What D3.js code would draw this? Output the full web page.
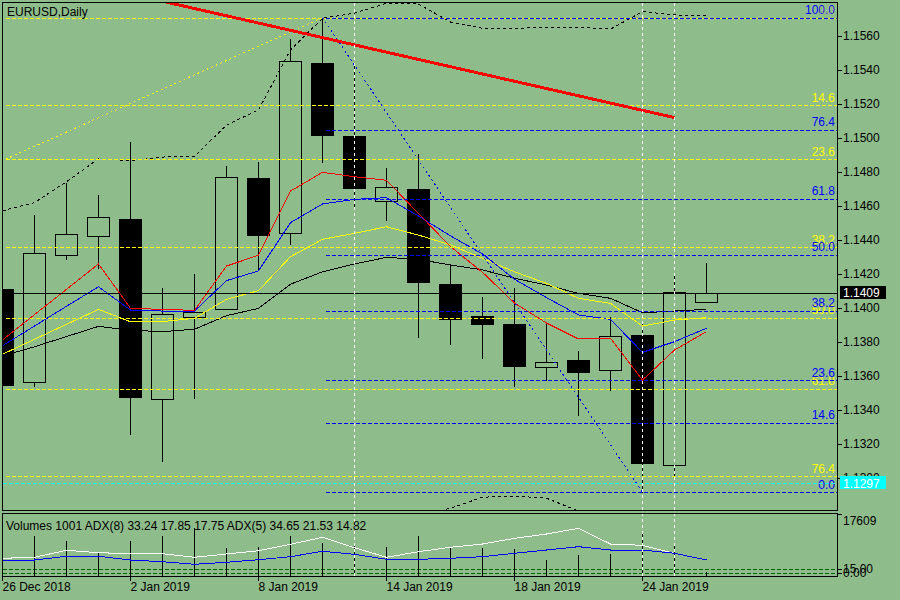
<!DOCTYPE html>
<html>
<head>
<meta charset="utf-8">
<script src="https://cdnjs.cloudflare.com/ajax/libs/d3/7.8.5/d3.min.js"></script>
<style>
  body { margin: 0; background: #8fbc8b; }
  svg text { font-family: "Liberation Sans", Arial, sans-serif; font-size: 12px; }
</style>
</head>
<body>
<svg id="chart" width="900" height="600"></svg>
<script>
// ---- data ----
const dates = ['26 Dec 2018', '27 Dec 2018', '28 Dec 2018', '31 Dec 2018', '2 Jan 2019', '3 Jan 2019',
  '4 Jan 2019', '7 Jan 2019', '8 Jan 2019', '9 Jan 2019', '10 Jan 2019', '11 Jan 2019', '14 Jan 2019',
  '15 Jan 2019', '16 Jan 2019', '17 Jan 2019', '18 Jan 2019', '21 Jan 2019', '22 Jan 2019',
  '23 Jan 2019', '24 Jan 2019', '25 Jan 2019', '28 Jan 2019']
const dateTicks = ['26 Dec 2018', '2 Jan 2019', '8 Jan 2019', '14 Jan 2019', '18 Jan 2019', '24 Jan 2019']

const opens = [1.14112, 1.13563, 1.1431, 1.14422, 1.14524, 1.13463, 1.13951, 1.13992, 1.14765, 1.14439, 1.15441,
  1.15012, 1.14628, 1.1470, 1.14141, 1.13953, 1.13906, 1.13651, 1.13692, 1.13634, 1.13839, 1.13075, 1.14039]
const highs = [1.1418, 1.14553, 1.1474, 1.14671, 1.14982, 1.14124, 1.14206, 1.14841, 1.14865, 1.15586, 1.1571,
  1.15428, 1.14829, 1.14912, 1.14263, 1.14072, 1.14124, 1.13924, 1.13753, 1.13953, 1.13924, 1.14198, 1.14272]
const lows = [1.1350, 1.13543, 1.1429, 1.14234, 1.13261, 1.13102, 1.13472, 1.13992, 1.14228, 1.14378, 1.14861,
  1.14592, 1.14519, 1.13831, 1.13788, 1.13708, 1.13543, 1.13577, 1.13372, 1.13519, 1.12916, 1.13016, 1.14039]
const closes = [1.13549, 1.14322, 1.14434, 1.14534, 1.13475, 1.13963, 1.13978, 1.14771, 1.14431, 1.15453, 1.15019,
  1.14708, 1.1471, 1.14151, 1.13937, 1.13908, 1.13661, 1.13681, 1.13619, 1.13834, 1.13087, 1.14092, 1.1409]
const volumes = [17609, 11361, 9940, 6447, 9940, 11361, 13633, 8038, 8236, 11361, 9372, 9458, 8236, 11361,
  7867, 7952, 7583, 4544, 5964, 6248, 12582, 8804, 1001]

const maRed = [1.13812, 1.13961, 1.1411, 1.14259, 1.13998, 1.13992, 1.13986, 1.14247, 1.1431, 1.14688, 1.14798,
  1.14772, 1.14751, 1.14556, 1.14361, 1.1421, 1.14029, 1.13912, 1.13818, 1.13822, 1.13576, 1.13753, 1.13861]
const maBlue = [1.13778, 1.13894, 1.1401, 1.14125, 1.13988, 1.13982, 1.13982, 1.14161, 1.14218, 1.14502, 1.14612,
  1.14639, 1.14649, 1.14541, 1.14424, 1.14318, 1.14169, 1.14061, 1.13959, 1.13933, 1.13739, 1.13802, 1.13881]
const maYellow = [1.13728, 1.13816, 1.13904, 1.13992, 1.13919, 1.1392, 1.13939, 1.14051, 1.14102, 1.14302, 1.14404,
  1.14439, 1.14478, 1.14429, 1.14371, 1.14292, 1.14213, 1.14145, 1.14057, 1.14027, 1.13894, 1.13929, 1.13943]
const maBlack = [1.13718, 1.13772, 1.13832, 1.13892, 1.13869, 1.13861, 1.13875, 1.13955, 1.13998, 1.1414, 1.14213,
  1.14259, 1.14298, 1.14286, 1.14253, 1.14224, 1.14175, 1.14135, 1.14086, 1.14057, 1.13972, 1.13982, 1.13992]
const bandUpper = [1.14572, 1.1462, 1.14743, 1.14878, 1.14865, 1.14888, 1.14892, 1.15076, 1.15165, 1.15518, 1.15704,
  1.15735, 1.15792, 1.15788, 1.15682, 1.15645, 1.15645, 1.15651, 1.15651, 1.15641, 1.15743, 1.15724, 1.15718]
const bandLower = [1.1262, 1.1258, 1.1255, 1.1252, 1.1250, 1.1252, 1.1255, 1.1258, 1.1262, 1.1265, 1.1268,
  1.1272, 1.1275, 1.1278, 1.12822, 1.12887, 1.12894, 1.12881, 1.12806, 1.1278, 1.1262, 1.1258, 1.1260]

const adxWhite = [58.9, 63.0, 91.6, 81.8, 77.7, 77.7, 63.0, 76.5, 89.9, 116.1, 144.7, 102.2, 63.0, 85.9,
  103.9, 117.3, 140.6, 158.2, 181.5, 117.3, 112.0, 79.3, 51.9]
const adxBlue = [49.1, 51.9, 67.1, 67.1, 51.9, 45.0, 34.3, 42.5, 53.2, 65.4, 87.5, 75.2, 54.8, 54.8,
  58.9, 65.4, 79.3, 92.8, 106.3, 92.8, 92.8, 79.3, 51.9]
const adxLevels = [15, 0]
const adxLevelLabels = ['15.00', '0.00']

const priceTicks = [1.1560, 1.1540, 1.1520, 1.1500, 1.1480, 1.1460, 1.1440, 1.1420, 1.1400, 1.1380, 1.1360,
  1.1340, 1.1320, 1.1300]
const fibLevels = [0, 14.6, 23.6, 38.2, 50, 61.8, 76.4, 100]
// yellow fib: from an old low (32 bars before the first visible bar) to the 10 Jan high
const fibYellowBars = [-32, 10]
const fibYellowPrices = [1.12176, 1.15708]
// blue fib: from the 10 Jan high down to the 24 Jan low
const fibBlueBars = [10, 20]
const fibBluePrices = [1.15708, 1.12916]
const trendBars = [3, 21]
const trendPrices = [1.1589, 1.1512]
const vLineDates = ['11 Jan 2019', '24 Jan 2019', '25 Jan 2019']
const bidPrice = 1.1409
const alertPrice = 1.1297
const volumeMax = 17609

const BG = '#8fbc8b'
const svg = d3.select('#chart')
const mainTop = 2.5, mainBottom = 510.5, subTop = 513.5, subBottom = 576.5, right = 837.5, left = 2.5

const xScale = d3.scaleLinear().domain([0, dates.length - 1]).range([2.5, 706.5])
const yScale = d3.scaleLinear().domain([1.1300, 1.1560]).range([478, 36])
const volScale = d3.scaleLinear().domain([0, volumeMax]).range([576, 514])
const adxScale = d3.scaleLinear().domain([0, 240]).range([572.7, 514])

svg.append('rect').attr('width', 900).attr('height', 600).attr('fill', BG)

const defs = svg.append('defs')
defs.append('clipPath').attr('id', 'clip-main').append('rect')
  .attr('x', 3).attr('y', 3).attr('width', 834).attr('height', 507)
defs.append('clipPath').attr('id', 'clip-sub').append('rect')
  .attr('x', 3).attr('y', 514).attr('width', 834).attr('height', 62)

const main = svg.append('g').attr('clip-path', 'url(#clip-main)').attr('shape-rendering', 'crispEdges')
const sub = svg.append('g').attr('clip-path', 'url(#clip-sub)').attr('shape-rendering', 'crispEdges')
const crisp = v => Math.round(v) + 0.5

// vertical dashed lines through both windows
svg.append('g').selectAll('line').data(vLineDates).join('line')
  .attr('x1', d => xScale(dates.indexOf(d))).attr('x2', d => xScale(dates.indexOf(d)))
  .attr('y1', 3).attr('y2', 576)
  .attr('stroke', '#fff').attr('stroke-dasharray', '3,3').attr('shape-rendering', 'crispEdges')

// candles
const idx = d3.range(dates.length)
main.append('g').selectAll('line').data(idx).join('line')
  .attr('x1', i => xScale(i)).attr('x2', i => xScale(i))
  .attr('y1', i => crisp(yScale(highs[i]))).attr('y2', i => crisp(yScale(lows[i])))
  .attr('stroke', '#000')
main.append('g').selectAll('rect').data(idx).join('rect')
  .attr('x', i => xScale(i) - 11).attr('width', 22)
  .attr('y', i => crisp(yScale(Math.max(opens[i], closes[i]))))
  .attr('height', i => Math.max(1, Math.round(yScale(Math.min(opens[i], closes[i])) - yScale(Math.max(opens[i], closes[i])))))
  .attr('fill', i => closes[i] < opens[i] ? '#000' : BG)
  .attr('stroke', '#000')

// indicator lines
const priceLine = d3.line().x((d, i) => xScale(i)).y(d => yScale(d))
const series = [
  { values: bandUpper, color: '#000', dash: '3,3' },
  { values: bandLower, color: '#000', dash: '3,3' },
  { values: maBlack, color: '#000', dash: null },
  { values: maYellow, color: '#ffff00', dash: null },
  { values: maBlue, color: '#0000ff', dash: null },
  { values: maRed, color: '#ff0000', dash: null }
]
main.append('g').selectAll('path').data(series).join('path')
  .attr('d', d => priceLine(d.values))
  .attr('fill', 'none').attr('stroke', d => d.color)
  .attr('stroke-dasharray', d => d.dash)

// fibonacci retracements
function drawFib (bars, prices, color, zeroAtHigh) {
  const hi = d3.max(prices), lo = d3.min(prices)
  const levelPrice = L => zeroAtHigh ? hi - L / 100 * (hi - lo) : lo + L / 100 * (hi - lo)
  const x0 = Math.max(xScale(bars[0]), 3)
  // only levels that fall inside the price window get a label
  const shown = fibLevels.filter(L => yScale(levelPrice(L)) < mainBottom)
  const g = main.append('g')
  g.append('line')
    .attr('x1', xScale(bars[0])).attr('y1', yScale(prices[0]))
    .attr('x2', xScale(bars[1])).attr('y2', yScale(prices[1]))
    .attr('stroke', color).attr('stroke-dasharray', '2,3')
  g.selectAll('line.lvl').data(shown).join('line').attr('class', 'lvl')
    .attr('x1', x0 + 3).attr('x2', right)
    .attr('y1', L => crisp(yScale(levelPrice(L)))).attr('y2', L => crisp(yScale(levelPrice(L))))
    .attr('stroke', color).attr('stroke-dasharray', '4,2')
  g.selectAll('text').data(shown).join('text')
    .attr('x', 835).attr('y', L => yScale(levelPrice(L)) - 3.5)
    .attr('text-anchor', 'end').attr('fill', color)
    .text(L => L.toFixed(1))
}
drawFib(fibYellowBars, fibYellowPrices, '#ffff00', true)
drawFib(fibBlueBars, fibBluePrices, '#0000ff', false)

// trend line
main.append('line')
  .attr('x1', xScale(trendBars[0])).attr('y1', yScale(trendPrices[0]))
  .attr('x2', xScale(trendBars[1])).attr('y2', yScale(trendPrices[1]))
  .attr('stroke', '#ff0000').attr('stroke-width', 3)

// bid and alert lines
main.append('line').attr('x1', 3).attr('x2', right)
  .attr('y1', crisp(yScale(bidPrice))).attr('y2', crisp(yScale(bidPrice))).attr('stroke', '#000')
main.append('line').attr('x1', 3).attr('x2', right)
  .attr('y1', crisp(yScale(alertPrice))).attr('y2', crisp(yScale(alertPrice)))
  .attr('stroke', '#00ffff').attr('stroke-dasharray', '4,2')

// sub window: volumes + two ADX lines + levels
sub.selectAll('line.lvl').data(adxLevels).join('line').attr('class', 'lvl')
  .attr('x1', 3).attr('x2', right)
  .attr('y1', d => crisp(adxScale(d))).attr('y2', d => crisp(adxScale(d)))
  .attr('stroke', '#006400').attr('stroke-dasharray', '4,2')
sub.append('g').selectAll('line').data(idx).join('line')
  .attr('x1', i => xScale(i)).attr('x2', i => xScale(i))
  .attr('y1', 576).attr('y2', i => Math.round(volScale(volumes[i])))
  .attr('stroke', '#000')
const adxLine = d3.line().x((d, i) => xScale(i)).y(d => adxScale(d))
sub.append('path').attr('d', adxLine(adxWhite)).attr('fill', 'none').attr('stroke', '#fff')
sub.append('path').attr('d', adxLine(adxBlue)).attr('fill', 'none').attr('stroke', '#0000ff')

// frames
const frame = svg.append('g').attr('fill', 'none').attr('stroke', '#000').attr('shape-rendering', 'crispEdges')
frame.append('rect').attr('x', left).attr('y', mainTop).attr('width', right - left).attr('height', mainBottom - mainTop)
frame.append('rect').attr('x', left).attr('y', subTop).attr('width', right - left).attr('height', subBottom - subTop)

// price axis
const axis = svg.append('g')
axis.selectAll('line').data(priceTicks).join('line')
  .attr('x1', right).attr('x2', right + 4)
  .attr('y1', d => crisp(yScale(d))).attr('y2', d => crisp(yScale(d)))
  .attr('stroke', '#000').attr('shape-rendering', 'crispEdges')
axis.selectAll('text').data(priceTicks).join('text')
  .attr('x', 843).attr('y', d => yScale(d)).attr('dy', '0.37em')
  .text(d => d.toFixed(4))

function priceBox (price, fill) {
  const y = yScale(price)
  svg.append('rect').attr('x', 840).attr('y', Math.round(y) - 7).attr('width', 46).attr('height', 13)
    .attr('fill', fill)
  svg.append('text').attr('x', 843).attr('y', y).attr('dy', '0.37em').attr('fill', '#fff')
    .text(price.toFixed(4))
}
priceBox(bidPrice, '#000')
priceBox(alertPrice, '#00ffff')

// sub window axis
svg.append('line').attr('x1', right).attr('x2', right + 4).attr('y1', 514.5).attr('y2', 514.5)
  .attr('stroke', '#000').attr('shape-rendering', 'crispEdges')
svg.append('text').attr('x', 843).attr('y', 525).text(volumeMax)
svg.selectAll('line.alvl').data(adxLevels).join('line').attr('class', 'alvl')
  .attr('x1', right).attr('x2', right + 4)
  .attr('y1', d => crisp(adxScale(d))).attr('y2', d => crisp(adxScale(d)))
  .attr('stroke', '#000').attr('shape-rendering', 'crispEdges')
svg.selectAll('text.alvl').data(adxLevels).join('text').attr('class', 'alvl')
  .attr('x', 843).attr('y', d => adxScale(d)).attr('dy', '0.37em')
  .text((d, i) => adxLevelLabels[i])

// time axis
const timeAxis = svg.append('g')
timeAxis.selectAll('line').data(dateTicks).join('line')
  .attr('x1', d => xScale(dates.indexOf(d))).attr('x2', d => xScale(dates.indexOf(d)))
  .attr('y1', 576).attr('y2', 581)
  .attr('stroke', '#000').attr('shape-rendering', 'crispEdges')
timeAxis.selectAll('text').data(dateTicks).join('text')
  .attr('x', d => xScale(dates.indexOf(d))).attr('y', 591)
  .text(d => d)

// titles
svg.append('text').attr('x', 7).attr('y', 16).text('EURUSD,Daily')
svg.append('text').attr('x', 6).attr('y', 530)
  .text('Volumes 1001 ADX(8) 33.24 17.85 17.75 ADX(5) 34.65 21.53 14.82')
</script>
</body>
</html>
